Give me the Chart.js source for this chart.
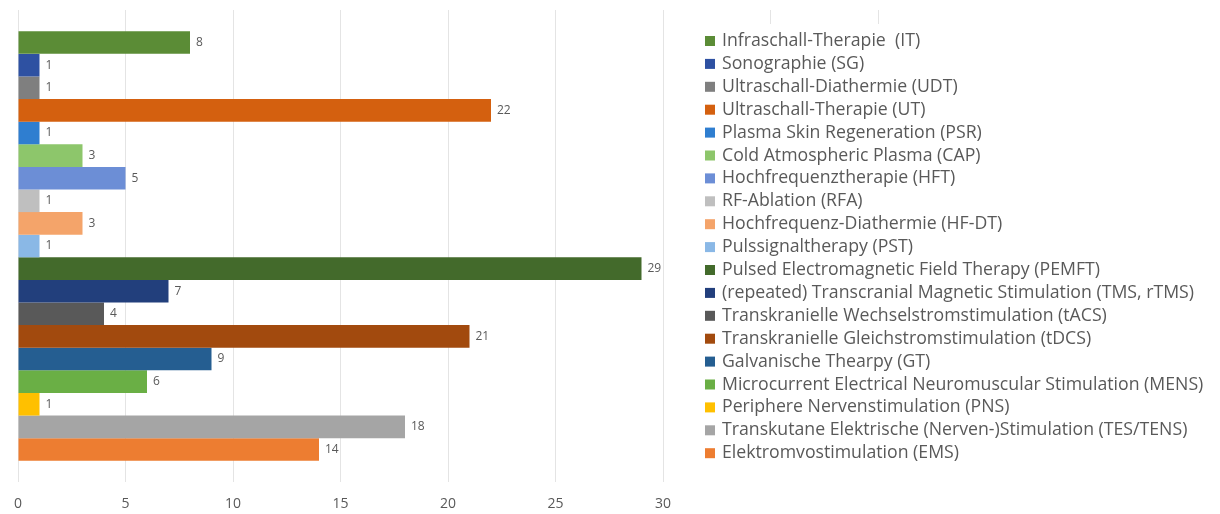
<!DOCTYPE html>
<html>
<head>
<meta charset="utf-8">
<script src="https://cdn.jsdelivr.net/npm/chart.js@4.4.1/dist/chart.umd.min.js"></script>
<style>
    html, body { margin: 0; padding: 0; background: #ffffff; }
    #wrap { position: relative; width: 1220px; height: 514px; }
</style>
</head>
<body>
<div id="wrap"><canvas id="chart"></canvas></div>
<script>
// Verfahren (one series each, top to bottom)
const methods = [
    'Infraschall-Therapie  (IT)',
    'Sonographie (SG)',
    'Ultraschall-Diathermie (UDT)',
    'Ultraschall-Therapie (UT)',
    'Plasma Skin Regeneration (PSR)',
    'Cold Atmospheric Plasma (CAP)',
    'Hochfrequenztherapie (HFT)',
    'RF-Ablation (RFA)',
    'Hochfrequenz-Diathermie (HF-DT)',
    'Pulssignaltherapy (PST)',
    'Pulsed Electromagnetic Field Therapy (PEMFT)',
    '(repeated) Transcranial Magnetic Stimulation (TMS, rTMS)',
    'Transkranielle Wechselstromstimulation (tACS)',
    'Transkranielle Gleichstromstimulation (tDCS)',
    'Galvanische Thearpy (GT)',
    'Microcurrent Electrical Neuromuscular Stimulation (MENS)',
    'Periphere Nervenstimulation (PNS)',
    'Transkutane Elektrische (Nerven-)Stimulation (TES/TENS)',
    'Elektromvostimulation (EMS)'
];

const counts = [8, 1, 1, 22, 1, 3, 5, 1, 3, 1, 29, 7, 4, 21, 9, 6, 1, 18, 14];

const colors = [
    '#5b8c36', '#2e51a2', '#7f7f7f', '#d4600f', '#2f7ed0', '#8dc66b', '#6c8ed6',
    '#bfbfbf', '#f4a46a', '#8ab8e6', '#436a2b', '#223f7c', '#595959', '#a24a0e',
    '#255e91', '#6aaf45', '#ffc000', '#a5a5a5', '#ed7d31'
];

const xTicks = [0, 5, 10, 15, 20, 25, 30];

const TEXT = '#595959';
const FONT = "'Open Sans', 'Noto Sans', sans-serif";

// Value labels at the end of each bar
const valueLabels = {
    id: 'valueLabels',
    afterDatasetsDraw(chart) {
        const { ctx } = chart;
        ctx.save();
        ctx.fillStyle = TEXT;
        ctx.font = '12px ' + FONT;
        ctx.textBaseline = 'middle';
        ctx.textAlign = 'left';
        chart.data.datasets.forEach((ds, i) => {
            const bar = chart.getDatasetMeta(i).data[0];
            if (!bar) return;
            const p = bar.getProps(['x', 'y'], true);
            ctx.fillText(ds.data[0], p.x + 6, p.y);
        });
        ctx.restore();
    }
};

// Legend box laid over the right part of the plot (as in the original)
const overlayLegend = {
    id: 'overlayLegend',
    afterDraw(chart) {
        const { ctx } = chart;
        ctx.save();
        ctx.fillStyle = '#ffffff';
        ctx.fillRect(690, 24, 530, 490);
        ctx.font = '17.7px ' + FONT;
        ctx.textBaseline = 'middle';
        ctx.textAlign = 'left';
        chart.data.datasets.forEach((ds, i) => {
            const y = 41 + i * 22.9;
            ctx.fillStyle = ds.backgroundColor;
            ctx.fillRect(705, y - 5, 10, 10);
            ctx.fillStyle = TEXT;
            ctx.fillText(ds.label, 722, y);
        });
        ctx.restore();
    }
};

new Chart(document.getElementById('chart'), {
    type: 'bar',
    data: {
        labels: [''],
        datasets: methods.map((name, i) => ({
            label: name,
            data: [counts[i]],
            backgroundColor: colors[i],
            borderWidth: 0
        }))
    },
    plugins: [valueLabels, overlayLegend],
    options: {
        responsive: true,
        maintainAspectRatio: false,
        animation: false,
        indexAxis: 'y',
        layout: { padding: { left: 17, top: 10, right: 342, bottom: 0 } },
        datasets: {
            bar: { categoryPercentage: 0.91, barPercentage: 1 }
        },
        scales: {
            x: {
                min: 0,
                max: 40,
                border: { display: false },
                grid: { color: '#e4e4e4', drawTicks: false },
                ticks: {
                    stepSize: 5,
                    padding: 14,
                    maxRotation: 0,
                    color: TEXT,
                    font: { family: FONT, size: 14 },
                    callback: v => xTicks.includes(v) ? v : ''
                },
                afterFit: scale => { scale.height = 32; }
            },
            y: { display: false }
        },
        plugins: {
            legend: { display: false },
            tooltip: { enabled: false }
        }
    }
});
</script>
</body>
</html>
